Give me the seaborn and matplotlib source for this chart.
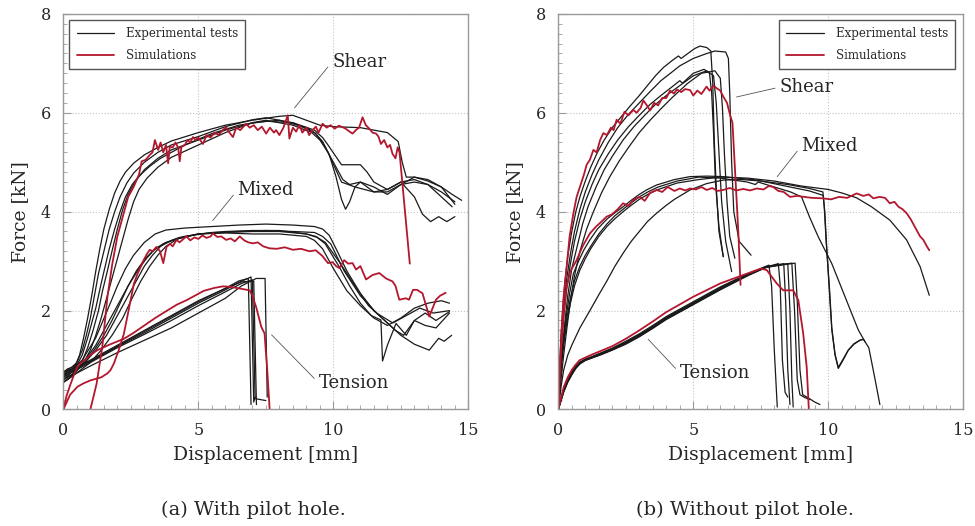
import numpy as np
import pandas as pd
import seaborn as sns
import matplotlib.pyplot as plt
from matplotlib.ticker import MultipleLocator
from matplotlib.lines import Line2D

# ---------------- (a) with pilot hole ----------------
# shear, experimental tests
a_shear_exp1_x = [0, 0.15, 0.3, 0.45, 0.6, 0.75, 0.9, 1.05, 1.2, 1.35, 1.5, 1.7, 1.9, 2.1, 2.3, 2.6, 3.0, 3.5, 4.0, 5.0, 6.0, 7.0, 8.0, 8.5, 9.0, 9.5, 10.0, 11.0, 12.0, 12.4, 12.55, 12.7, 13.0, 13.5, 14.0, 14.4, 14.75]
a_shear_exp1_y = [0.65, 0.75, 0.8, 0.9, 1.1, 1.45, 1.85, 2.3, 2.8, 3.25, 3.65, 4.05, 4.38, 4.62, 4.8, 4.98, 5.15, 5.3, 5.43, 5.6, 5.75, 5.85, 5.93, 5.95, 5.85, 5.75, 5.72, 5.7, 5.6, 5.42, 5.0, 4.7, 4.7, 4.62, 4.5, 4.35, 4.23]
a_shear_exp2_x = [0, 0.15, 0.3, 0.5, 0.7, 0.85, 1.0, 1.15, 1.3, 1.5, 1.7, 1.9, 2.1, 2.35, 2.6, 3.0, 3.5, 4.0, 5.0, 6.0, 7.0, 7.5, 8.5, 9.3, 9.6, 9.85, 10.1, 10.3, 10.45, 10.6, 10.8, 11.0, 11.5, 12.0, 12.5, 13.0, 13.5, 14.0, 14.5]
a_shear_exp2_y = [0.75, 0.82, 0.85, 0.95, 1.2, 1.5, 1.85, 2.3, 2.75, 3.2, 3.65, 4.0, 4.3, 4.58, 4.78, 5.0, 5.2, 5.35, 5.52, 5.72, 5.86, 5.9, 5.8, 5.6, 5.42, 5.15, 4.7, 4.25, 4.05, 4.2, 4.5, 4.6, 4.5, 4.35, 4.55, 4.7, 4.65, 4.5, 4.15]
a_shear_exp3_x = [0, 0.15, 0.3, 0.5, 0.7, 0.9, 1.05, 1.2, 1.4, 1.55, 1.7, 1.9, 2.1, 2.3, 2.55, 2.8, 3.2, 3.6, 4.5, 5.5, 6.5, 7.5, 8.5, 9.3, 9.6, 9.8, 10.05, 10.3, 11.0, 11.25, 11.5, 12.0, 12.5, 13.0, 13.3, 13.6, 13.9, 14.2, 14.5]
a_shear_exp3_y = [0.7, 0.78, 0.8, 0.9, 1.1, 1.45, 1.75, 2.05, 2.55, 2.9, 3.25, 3.65, 4.0, 4.3, 4.55, 4.72, 4.92, 5.08, 5.35, 5.58, 5.75, 5.83, 5.8, 5.65, 5.5, 5.35, 5.15, 4.95, 4.95, 4.8, 4.6, 4.45, 4.6, 4.3, 3.95, 3.8, 3.9, 3.8, 3.9]
a_shear_exp4_x = [0, 0.15, 0.3, 0.5, 0.7, 0.9, 1.1, 1.3, 1.45, 1.65, 1.8, 2.0, 2.2, 2.4, 2.65, 3.0, 3.5, 4.0, 5.0, 6.0, 7.0, 8.0, 9.0, 9.35, 9.6, 9.85, 10.1, 10.35, 10.6, 11.0, 11.5, 12.0, 12.5, 13.0, 13.5, 14.0, 14.4]
a_shear_exp4_y = [0.6, 0.66, 0.7, 0.8, 0.98, 1.25, 1.6, 2.0, 2.4, 2.85, 3.2, 3.65, 4.05, 4.35, 4.6, 4.85, 5.08, 5.25, 5.45, 5.65, 5.8, 5.85, 5.7, 5.58, 5.4, 5.15, 4.9, 4.65, 4.55, 4.6, 4.4, 4.4, 4.55, 4.6, 4.55, 4.3, 4.1]
a_shear_exp5_x = [0, 0.2, 0.4, 0.6, 0.8, 1.0, 1.2, 1.4, 1.6, 1.8, 2.0, 2.2, 2.4, 2.6, 2.8, 3.1, 3.5, 4.0, 5.0, 6.0, 7.0, 7.5, 8.5, 9.2, 9.5, 9.8, 10.05, 10.3, 10.8, 11.5, 12.0, 12.5, 13.0, 13.5, 14.0, 14.5]
a_shear_exp5_y = [0.55, 0.62, 0.72, 0.85, 1.0, 1.2, 1.5, 1.85, 2.25, 2.65, 3.05, 3.45, 3.85, 4.2, 4.45, 4.68, 4.9, 5.1, 5.35, 5.6, 5.8, 5.85, 5.75, 5.6, 5.45, 5.2, 4.9, 4.6, 4.5, 4.4, 4.45, 4.6, 4.65, 4.55, 4.4, 4.2]

# mixed, experimental tests
a_mixed_exp1_x = [0, 0.3, 0.7, 1.2, 1.7, 2.0, 2.3, 2.6, 3.0, 3.4, 3.8, 4.5, 5.5, 6.5, 7.5, 8.5, 9.3, 9.6, 9.85, 10.1, 10.5, 11.0, 11.5, 12.0, 12.5, 13.0, 13.55, 13.9, 14.1, 14.38]
a_mixed_exp1_y = [0.7, 0.8, 1.0, 1.45, 2.1, 2.5, 2.85, 3.12, 3.38, 3.55, 3.63, 3.67, 3.7, 3.73, 3.75, 3.73, 3.7, 3.65, 3.52, 3.25, 2.8, 2.35, 2.0, 1.75, 1.5, 1.32, 1.2, 1.44, 1.38, 1.5]
a_mixed_exp2_x = [0, 0.3, 0.8, 1.2, 1.5, 1.8, 2.1, 2.4, 2.7, 3.0, 3.3, 3.7, 4.2, 5.0, 6.0, 7.0, 8.0, 9.0, 9.4, 9.7, 10.2, 10.6, 11.0, 11.4, 11.76, 11.82, 12.0, 12.32, 12.7, 13.0, 13.4, 13.8, 14.3]
a_mixed_exp2_y = [0.6, 0.7, 0.95, 1.25, 1.5, 1.8, 2.15, 2.5, 2.8, 3.03, 3.2, 3.35, 3.45, 3.55, 3.58, 3.6, 3.6, 3.55, 3.48, 3.35, 2.9, 2.5, 2.15, 1.9, 1.81, 0.98, 1.3, 1.74, 1.5, 1.8, 1.95, 1.8, 1.98]
a_mixed_exp3_x = [0, 0.3, 0.8, 1.2, 1.5, 1.8, 2.1, 2.4, 2.8, 3.1, 3.4, 3.8, 4.2, 5.0, 6.0, 7.0, 8.0, 9.0, 9.3, 9.6, 10.0, 10.5, 11.0, 11.5, 12.0, 12.5, 13.0, 13.5, 14.0, 14.3]
a_mixed_exp3_y = [0.75, 0.85, 1.0, 1.3, 1.6, 1.9, 2.2, 2.5, 2.85, 3.07, 3.25, 3.38, 3.45, 3.55, 3.57, 3.55, 3.55, 3.5, 3.42, 3.25, 2.85, 2.4, 2.1, 1.85, 1.7, 1.85, 2.05, 2.15, 2.2, 2.15]
a_mixed_exp4_x = [0, 0.3, 0.8, 1.2, 1.6, 2.0, 2.3, 2.65, 3.0, 3.3, 3.6, 4.0, 4.3, 5.0, 6.0, 7.0, 8.0, 9.0, 9.35, 9.7, 10.2, 10.8, 11.3, 11.8, 12.3, 12.6, 13.0, 13.4, 13.8, 14.3]
a_mixed_exp4_y = [0.65, 0.75, 0.95, 1.2, 1.5, 1.9, 2.2, 2.55, 2.9, 3.12, 3.3, 3.42, 3.48, 3.55, 3.6, 3.62, 3.62, 3.55, 3.5, 3.38, 3.0, 2.5, 2.1, 1.85, 1.6, 1.5, 1.8, 1.7, 1.65, 1.95]
a_mixed_exp5_x = [0, 0.4, 1.0, 1.4, 1.8, 2.2, 2.5, 2.85, 3.2, 3.5, 3.8, 4.2, 4.5, 5.5, 6.5, 7.5, 8.5, 9.3, 9.6, 9.9, 10.4, 11.0, 11.6, 12.2, 12.7, 13.2, 13.7, 14.3]
a_mixed_exp5_y = [0.55, 0.7, 0.95, 1.2, 1.5, 1.85, 2.2, 2.58, 2.9, 3.12, 3.3, 3.44, 3.5, 3.58, 3.6, 3.62, 3.6, 3.58, 3.5, 3.35, 2.8, 2.3, 1.95, 1.75, 1.9, 2.05, 1.95, 2.0]

# tension, experimental tests
a_tens_exp1_x = [0, 0.3, 1.0, 2.0, 3.0, 4.0, 5.0, 6.0, 6.5, 6.85, 6.95]
a_tens_exp1_y = [0.7, 0.8, 1.0, 1.3, 1.6, 1.9, 2.2, 2.45, 2.6, 2.65, 0.1]
a_tens_exp2_x = [0, 0.3, 1.0, 2.0, 3.0, 4.0, 5.0, 6.0, 6.5, 6.95, 7.05, 7.1]
a_tens_exp2_y = [0.65, 0.78, 0.97, 1.27, 1.55, 1.85, 2.15, 2.42, 2.57, 2.68, 0.15, 0.25]
a_tens_exp3_x = [0, 0.3, 1.0, 2.0, 3.0, 4.0, 5.0, 6.0, 6.6, 7.0, 7.1, 7.3, 7.5]
a_tens_exp3_y = [0.6, 0.75, 0.95, 1.25, 1.52, 1.8, 2.1, 2.38, 2.55, 2.62, 0.22, 0.2, 0.18]
a_tens_exp4_x = [0, 0.3, 1.0, 2.0, 3.0, 4.0, 5.0, 6.0, 6.6, 7.05, 7.15]
a_tens_exp4_y = [0.75, 0.82, 0.98, 1.28, 1.58, 1.88, 2.18, 2.45, 2.58, 2.6, 0.1]
a_tens_exp5_x = [0, 0.3, 1.0, 2.0, 3.0, 4.0, 5.0, 6.0, 6.6, 7.14, 7.47, 7.55]
a_tens_exp5_y = [0.55, 0.68, 0.88, 1.15, 1.4, 1.65, 1.95, 2.25, 2.5, 2.65, 2.65, 0.25]

# simulations
a_shear_sim_x = [1.0, 1.23, 1.44, 1.63, 1.81, 2.0, 2.2, 2.4, 2.6, 2.8, 2.9, 3.05, 3.2, 3.3, 3.39, 3.51, 3.6, 3.7, 3.8, 3.88,
                 3.94, 4.05, 4.15, 4.25, 4.31, 4.37, 4.5, 4.6, 4.7, 4.8, 4.9, 5.0, 5.17, 5.3, 5.45, 5.6, 5.75, 5.9, 6.03, 6.15,
                 6.28, 6.4, 6.55, 6.77, 6.9, 7.05, 7.2, 7.35, 7.51, 7.65, 7.8, 7.88, 8.0, 8.15, 8.31, 8.37, 8.5, 8.62, 8.74, 8.85,
                 9.0, 9.1, 9.23, 9.35, 9.45, 9.6, 9.75, 9.9, 10.05, 10.2, 10.34, 10.45, 10.6, 10.71, 10.85, 10.95, 11.08, 11.2, 11.33, 11.45,
                 11.58, 11.67, 11.76, 11.88, 12.0, 12.1, 12.19, 12.3, 12.38, 12.45, 12.83]
a_shear_sim_y = [0.0, 0.52, 1.26, 2.27, 2.94, 3.5, 3.9, 4.3, 4.5, 4.75, 5.02, 5.05, 5.15, 5.2, 5.45, 5.25, 5.4, 5.2, 5.35, 4.98,
                 5.31, 5.3, 5.4, 5.3, 5.02, 5.31, 5.35, 5.45, 5.4, 5.51, 5.45, 5.5, 5.37, 5.55, 5.5, 5.6, 5.55, 5.65, 5.71, 5.6,
                 5.51, 5.7, 5.65, 5.78, 5.7, 5.75, 5.65, 5.72, 5.58, 5.7, 5.6, 5.65, 5.55, 5.7, 5.95, 5.48, 5.7, 5.62, 5.75, 5.6,
                 5.7, 5.55, 5.65, 5.72, 5.6, 5.78, 5.7, 5.75, 5.68, 5.74, 5.71, 5.68, 5.62, 5.58, 5.66, 5.7, 5.91, 5.75, 5.68, 5.6,
                 5.58, 5.52, 5.37, 5.45, 5.3, 5.35, 5.17, 5.08, 5.3, 5.2, 2.95]
a_mixed_sim_x = [0, 0.25, 0.52, 0.75, 1.01, 1.2, 1.4, 1.63, 1.75, 1.87, 2.05, 2.24, 2.45, 2.61, 2.75, 2.86, 3.0, 3.1, 3.2, 3.3,
                 3.45, 3.58, 3.7, 3.82, 3.95, 4.05, 4.19, 4.3, 4.45, 4.56, 4.7, 4.85, 5.0, 5.15, 5.3, 5.45, 5.54, 5.7, 5.85, 6.03,
                 6.2, 6.35, 6.53, 6.7, 6.85, 7.02, 7.2, 7.4, 7.63, 7.9, 8.2, 8.5, 8.8, 9.11, 9.35, 9.6, 9.8, 9.97, 10.1, 10.22,
                 10.4, 10.55, 10.71, 10.84, 11.0, 11.21, 11.45, 11.7, 11.95, 12.19, 12.3, 12.44, 12.68, 12.8, 12.95, 13.1, 13.3, 13.55, 13.8, 13.95,
                 14.16]
a_mixed_sim_y = [0, 0.3, 0.46, 0.53, 0.59, 0.62, 0.65, 0.73, 0.8, 0.93, 1.2, 1.53, 2.1, 2.54, 2.75, 2.88, 3.05, 3.15, 3.23, 3.2,
                 3.29, 3.2, 2.96, 3.29, 3.35, 3.3, 3.43, 3.38, 3.45, 3.5, 3.42, 3.48, 3.45, 3.52, 3.47, 3.5, 3.56, 3.49, 3.5, 3.43,
                 3.46, 3.4, 3.5, 3.42, 3.38, 3.36, 3.38, 3.3, 3.26, 3.25, 3.28, 3.23, 3.25, 3.2, 3.22, 3.1, 2.96, 2.98, 2.9, 2.86,
                 3.02, 2.95, 2.96, 2.83, 2.9, 2.63, 2.72, 2.76, 2.65, 2.59, 2.5, 2.22, 2.25, 2.22, 2.42, 2.42, 2.35, 1.88, 2.22, 2.3,
                 2.36]
a_tens_sim_x = [0, 0.12, 0.27, 0.4, 0.52, 0.64, 0.76, 1.0, 1.26, 1.7, 2.24, 2.6, 3.0, 3.4, 3.84, 4.2, 4.56, 5.2, 5.6, 5.91, 6.2, 6.5, 6.9, 7.0, 7.14, 7.33, 7.45, 7.55, 7.64]
a_tens_sim_y = [0, 0.28, 0.52, 0.71, 0.86, 0.94, 0.99, 1.1, 1.2, 1.31, 1.43, 1.55, 1.7, 1.85, 2.0, 2.12, 2.21, 2.4, 2.46, 2.49, 2.48, 2.45, 2.41, 2.3, 2.07, 1.67, 1.54, 0.8, 0.0]

# ---------------- (b) without pilot hole ----------------
b_shear_exp1_x = [0, 0.05, 0.1, 0.17, 0.25, 0.35, 0.5, 0.65, 0.8, 1.0, 1.2, 1.45, 1.7, 2.0, 2.3, 2.65, 3.0, 3.3, 3.6, 3.9, 4.2, 4.45, 4.55, 4.8, 5.05, 5.25, 5.5, 5.65, 5.72, 5.78, 5.85, 5.95, 6.11]
b_shear_exp1_y = [0, 0.85, 1.5, 2.1, 2.6, 3.1, 3.6, 4.0, 4.3, 4.62, 4.9, 5.2, 5.45, 5.7, 5.9, 6.13, 6.35, 6.55, 6.75, 6.92, 7.05, 7.15, 7.1, 7.2, 7.3, 7.35, 7.32, 7.25, 6.6, 5.4, 4.5, 3.6, 3.09]
b_shear_exp2_x = [0, 0.05, 0.1, 0.2, 0.3, 0.45, 0.6, 0.8, 1.0, 1.25, 1.5, 1.85, 2.2, 2.6, 3.0, 3.4, 3.8, 4.2, 4.5, 5.0, 5.5, 5.8, 6.2, 6.3, 6.35, 6.42, 6.5, 6.7, 7.14]
b_shear_exp2_y = [0, 0.75, 1.3, 2.05, 2.6, 3.15, 3.6, 4.05, 4.4, 4.75, 5.05, 5.4, 5.7, 5.97, 6.2, 6.43, 6.65, 6.82, 6.95, 7.1, 7.2, 7.25, 7.23, 7.1, 6.4, 5.0, 4.0, 3.4, 3.12]
b_shear_exp3_x = [0, 0.05, 0.1, 0.2, 0.3, 0.45, 0.6, 0.8, 1.0, 1.25, 1.5, 1.85, 2.2, 2.6, 3.0, 3.4, 3.8, 4.2, 4.5, 4.6, 5.0, 5.4, 5.6, 5.68, 5.75, 5.82, 5.95, 6.11]
b_shear_exp3_y = [0, 0.7, 1.2, 1.9, 2.4, 2.95, 3.4, 3.85, 4.2, 4.55, 4.85, 5.17, 5.45, 5.72, 5.95, 6.17, 6.35, 6.52, 6.65, 6.6, 6.8, 6.88, 6.8, 6.4, 5.6, 4.6, 3.7, 3.09]
b_shear_exp4_x = [0, 0.07, 0.15, 0.25, 0.35, 0.5, 0.7, 0.9, 1.1, 1.4, 1.7, 2.0, 2.4, 2.8, 3.2, 3.6, 4.0, 4.5, 5.0, 5.5, 5.75, 5.85, 5.95, 6.05, 6.2, 6.42]
b_shear_exp4_y = [0, 0.65, 1.2, 1.8, 2.3, 2.85, 3.3, 3.75, 4.1, 4.5, 4.85, 5.12, 5.45, 5.72, 5.95, 6.17, 6.35, 6.55, 6.75, 6.85, 6.75, 6.2, 5.2, 4.2, 3.4, 2.79]
b_shear_exp5_x = [0, 0.1, 0.2, 0.32, 0.45, 0.6, 0.8, 1.05, 1.3, 1.6, 1.9, 2.25, 2.6, 3.0, 3.4, 3.8, 4.2, 4.8, 5.3, 5.8, 6.0, 6.08, 6.15, 6.25, 6.35, 6.54]
b_shear_exp5_y = [0, 0.6, 1.1, 1.65, 2.2, 2.7, 3.2, 3.65, 4.0, 4.38, 4.7, 5.02, 5.3, 5.6, 5.85, 6.08, 6.3, 6.6, 6.8, 6.85, 6.7, 6.1, 5.2, 4.2, 3.5, 3.06]

b_mixed_exp1_x = [0, 0.05, 0.1, 0.2, 0.3, 0.42, 0.56, 0.75, 0.95, 1.17, 1.45, 1.8, 2.1, 2.4, 2.7, 3.0, 3.3, 3.64, 4.3, 4.88, 5.5, 6.1, 7.35, 8.58, 9.3, 9.81, 9.87, 9.94, 10.05, 10.13, 10.25, 10.37, 10.55, 10.74, 10.95, 11.17, 11.3, 11.5, 11.7, 11.91]
b_mixed_exp1_y = [0, 0.55, 1.0, 1.5, 1.9, 2.35, 2.75, 3.0, 3.23, 3.43, 3.65, 3.85, 3.98, 4.1, 4.23, 4.35, 4.45, 4.54, 4.65, 4.71, 4.72, 4.71, 4.64, 4.5, 4.42, 4.33, 4.0, 3.29, 2.3, 1.61, 1.1, 0.83, 1.0, 1.2, 1.32, 1.4, 1.42, 1.25, 0.7, 0.1]
b_mixed_exp2_x = [0, 0.05, 0.1, 0.2, 0.3, 0.45, 0.6, 0.8, 1.0, 1.2, 1.5, 1.8, 2.1, 2.4, 2.7, 3.0, 3.35, 3.7, 4.4, 5.2, 6.0, 7.0, 7.3, 7.4, 8.0, 8.6, 9.01, 9.3, 9.63, 10.13, 10.62, 11.11, 11.36]
b_mixed_exp2_y = [0, 0.5, 0.9, 1.4, 1.8, 2.25, 2.6, 2.9, 3.12, 3.3, 3.55, 3.75, 3.92, 4.05, 4.18, 4.3, 4.41, 4.5, 4.62, 4.7, 4.68, 4.6, 4.55, 4.6, 4.5, 4.4, 4.3, 3.9, 3.49, 2.95, 2.28, 1.61, 1.37]
b_mixed_exp3_x = [0, 0.05, 0.1, 0.2, 0.3, 0.45, 0.6, 0.8, 1.0, 1.2, 1.5, 1.8, 2.1, 2.4, 2.7, 3.0, 3.35, 3.7, 4.4, 5.2, 6.0, 7.0, 8.0, 9.0, 10.0, 10.5, 11.05, 11.6, 12.28, 12.9, 13.4, 13.74]
b_mixed_exp3_y = [0, 0.45, 0.8, 1.3, 1.7, 2.15, 2.5, 2.82, 3.05, 3.25, 3.5, 3.7, 3.86, 4.0, 4.13, 4.25, 4.36, 4.45, 4.58, 4.65, 4.7, 4.68, 4.62, 4.52, 4.45, 4.38, 4.28, 4.1, 3.83, 3.43, 2.89, 2.31]
b_mixed_exp4_x = [0, 0.1, 0.2, 0.35, 0.5, 0.8, 1.17, 1.5, 1.8, 2.1, 2.4, 2.7, 3.0, 3.3, 3.64, 4.0, 4.3, 4.88, 5.5, 6.11, 6.8, 7.5, 8.5, 9.3, 9.8, 9.85, 9.92, 10.05, 10.13, 10.25, 10.37, 10.55, 10.74, 10.95, 11.17, 11.3]
b_mixed_exp4_y = [0, 0.45, 0.8, 1.1, 1.3, 1.65, 2.0, 2.32, 2.6, 2.9, 3.16, 3.4, 3.6, 3.8, 3.97, 4.13, 4.25, 4.44, 4.57, 4.64, 4.65, 4.62, 4.55, 4.47, 4.4, 4.1, 3.4, 2.4, 1.65, 1.12, 0.85, 1.02, 1.2, 1.33, 1.4, 1.42]

b_tens_exp1_x = [0, 0.1, 0.2, 0.35, 0.5, 0.65, 0.8, 1.0, 1.2, 1.6, 2.0, 2.5, 3.0, 3.5, 4.0, 5.0, 6.0, 7.0, 7.5, 7.8, 7.9, 8.0, 8.11]
b_tens_exp1_y = [0, 0.2, 0.4, 0.6, 0.75, 0.87, 0.95, 1.01, 1.05, 1.13, 1.22, 1.35, 1.5, 1.67, 1.85, 2.15, 2.45, 2.72, 2.85, 2.92, 2.5, 1.2, 0.05]
b_tens_exp2_x = [0, 0.1, 0.2, 0.35, 0.5, 0.65, 0.8, 1.0, 1.2, 1.6, 2.0, 2.5, 3.0, 3.5, 4.0, 5.0, 6.0, 7.0, 7.7, 8.15, 8.22, 8.3, 8.4, 8.5]
b_tens_exp2_y = [0, 0.17, 0.35, 0.55, 0.7, 0.83, 0.92, 0.99, 1.03, 1.11, 1.2, 1.32, 1.47, 1.64, 1.82, 2.12, 2.42, 2.7, 2.88, 2.95, 2.5, 1.0, 0.35, 0.25]
b_tens_exp3_x = [0, 0.1, 0.2, 0.35, 0.5, 0.65, 0.8, 1.0, 1.2, 1.6, 2.0, 2.5, 3.0, 3.5, 4.0, 5.0, 6.0, 7.0, 7.7, 8.35, 8.42, 8.5, 8.58]
b_tens_exp3_y = [0, 0.22, 0.42, 0.62, 0.77, 0.89, 0.96, 1.02, 1.06, 1.15, 1.24, 1.38, 1.53, 1.7, 1.88, 2.18, 2.48, 2.74, 2.89, 2.95, 2.2, 0.8, 0.1]
b_tens_exp4_x = [0, 0.1, 0.2, 0.35, 0.5, 0.65, 0.8, 1.0, 1.2, 1.6, 2.0, 2.5, 3.0, 3.5, 4.0, 5.0, 6.0, 7.0, 7.7, 8.5, 8.58, 8.65, 8.7]
b_tens_exp4_y = [0, 0.19, 0.38, 0.57, 0.72, 0.85, 0.93, 1.0, 1.04, 1.12, 1.21, 1.34, 1.48, 1.65, 1.83, 2.13, 2.43, 2.71, 2.87, 2.95, 2.0, 0.6, 0.05]
b_tens_exp5_x = [0, 0.1, 0.2, 0.35, 0.5, 0.65, 0.8, 1.0, 1.2, 1.6, 2.0, 2.5, 3.0, 3.5, 4.0, 5.0, 6.0, 7.0, 7.7, 8.65, 8.75, 8.85, 8.95, 9.1, 9.3]
b_tens_exp5_y = [0, 0.21, 0.4, 0.6, 0.74, 0.86, 0.94, 1.01, 1.05, 1.14, 1.23, 1.36, 1.51, 1.68, 1.86, 2.16, 2.46, 2.73, 2.89, 2.96, 2.0, 0.6, 0.3, 0.25, 0.2]
b_tens_exp6_x = [0, 0.1, 0.2, 0.35, 0.5, 0.65, 0.8, 1.0, 1.2, 1.6, 2.0, 2.5, 3.0, 3.5, 4.0, 5.0, 6.0, 7.0, 7.7, 8.77, 8.85, 8.95, 9.05, 9.3, 9.5, 9.69]
b_tens_exp6_y = [0, 0.18, 0.36, 0.56, 0.71, 0.84, 0.93, 1.0, 1.04, 1.12, 1.21, 1.34, 1.49, 1.66, 1.84, 2.14, 2.44, 2.72, 2.88, 2.96, 2.2, 0.8, 0.3, 0.22, 0.15, 0.1]

b_shear_sim_x = [0, 0.05, 0.12, 0.2, 0.31, 0.42, 0.56, 0.68, 0.8, 0.95, 1.05, 1.17, 1.3, 1.42, 1.55, 1.67, 1.8, 1.95, 2.05, 2.16,
                 2.3, 2.45, 2.6, 2.78, 2.9, 3.05, 3.15, 3.27, 3.4, 3.55, 3.7, 3.85, 4.0, 4.14, 4.28, 4.4, 4.55, 4.7, 4.88, 5.0,
                 5.15, 5.3, 5.49, 5.6, 5.75, 5.86, 6.0, 6.11, 6.25, 6.36, 6.45, 6.54, 6.67, 6.75]
b_shear_sim_y = [0, 0.8, 1.54, 2.3, 2.89, 3.5, 3.97, 4.3, 4.5, 4.75, 4.95, 5.05, 5.25, 5.2, 5.45, 5.59, 5.55, 5.7, 5.65, 5.86,
                 5.78, 6.02, 5.95, 6.06, 6.0, 6.1, 6.25, 6.16, 6.05, 6.2, 6.15, 6.3, 6.3, 6.45, 6.39, 6.47, 6.42, 6.48, 6.46, 6.35,
                 6.45, 6.38, 6.53, 6.45, 6.55, 6.5, 6.45, 6.33, 6.2, 5.96, 5.8, 4.9, 3.56, 2.52]
b_mixed_sim_x = [0, 0.1, 0.2, 0.31, 0.45, 0.68, 0.9, 1.17, 1.4, 1.6, 1.79, 2.0, 2.2, 2.4, 2.6, 2.8, 3.02, 3.2, 3.4, 3.64,
                 3.85, 4.05, 4.3, 4.5, 4.7, 4.88, 5.1, 5.3, 5.5, 5.7, 5.9, 6.11, 6.35, 6.6, 6.85, 7.1, 7.35, 7.6, 7.8, 7.96,
                 8.15, 8.35, 8.58, 8.85, 9.1, 9.4, 9.81, 10.1, 10.4, 10.7, 11.05, 11.3, 11.5, 11.67, 11.9, 12.1, 12.28, 12.45, 12.6, 12.75,
                 12.9, 13.05, 13.2, 13.27, 13.4, 13.52, 13.65, 13.74]
b_mixed_sim_y = [0, 1.2, 1.9, 2.48, 2.8, 3.02, 3.3, 3.56, 3.7, 3.8, 3.9, 3.95, 4.05, 4.17, 4.12, 4.25, 4.3, 4.22, 4.38, 4.44,
                 4.4, 4.5, 4.42, 4.47, 4.43, 4.47, 4.45, 4.5, 4.44, 4.48, 4.42, 4.44, 4.48, 4.43, 4.46, 4.43, 4.47, 4.45, 4.52, 4.5,
                 4.42, 4.4, 4.3, 4.32, 4.3, 4.28, 4.27, 4.25, 4.3, 4.28, 4.37, 4.32, 4.35, 4.27, 4.3, 4.28, 4.17, 4.2, 4.1, 4.05,
                 3.97, 3.85, 3.7, 3.63, 3.5, 3.43, 3.3, 3.22]
b_tens_sim_x = [0, 0.1, 0.2, 0.35, 0.5, 0.65, 0.8, 1.0, 1.2, 1.6, 2.0, 2.5, 3.0, 3.5, 4.0, 5.0, 6.0, 7.0, 7.5, 7.72, 8.09, 8.33, 8.7, 8.89, 9.07, 9.2, 9.28]
b_tens_sim_y = [0, 0.23, 0.45, 0.65, 0.8, 0.91, 1.0, 1.05, 1.1, 1.19, 1.28, 1.43, 1.6, 1.78, 1.97, 2.28, 2.55, 2.75, 2.85, 2.82, 2.55, 2.41, 2.41, 2.21, 1.54, 0.86, 0.0]

curves = [
    ('a', 'exp', a_shear_exp1_x, a_shear_exp1_y), ('a', 'exp', a_shear_exp2_x, a_shear_exp2_y),
    ('a', 'exp', a_shear_exp3_x, a_shear_exp3_y), ('a', 'exp', a_shear_exp4_x, a_shear_exp4_y),
    ('a', 'exp', a_shear_exp5_x, a_shear_exp5_y),
    ('a', 'exp', a_mixed_exp1_x, a_mixed_exp1_y), ('a', 'exp', a_mixed_exp2_x, a_mixed_exp2_y),
    ('a', 'exp', a_mixed_exp3_x, a_mixed_exp3_y), ('a', 'exp', a_mixed_exp4_x, a_mixed_exp4_y),
    ('a', 'exp', a_mixed_exp5_x, a_mixed_exp5_y),
    ('a', 'exp', a_tens_exp1_x, a_tens_exp1_y), ('a', 'exp', a_tens_exp2_x, a_tens_exp2_y),
    ('a', 'exp', a_tens_exp3_x, a_tens_exp3_y), ('a', 'exp', a_tens_exp4_x, a_tens_exp4_y),
    ('a', 'exp', a_tens_exp5_x, a_tens_exp5_y),
    ('a', 'sim', a_shear_sim_x, a_shear_sim_y), ('a', 'sim', a_mixed_sim_x, a_mixed_sim_y),
    ('a', 'sim', a_tens_sim_x, a_tens_sim_y),
    ('b', 'exp', b_shear_exp1_x, b_shear_exp1_y), ('b', 'exp', b_shear_exp2_x, b_shear_exp2_y),
    ('b', 'exp', b_shear_exp3_x, b_shear_exp3_y), ('b', 'exp', b_shear_exp4_x, b_shear_exp4_y),
    ('b', 'exp', b_shear_exp5_x, b_shear_exp5_y),
    ('b', 'exp', b_mixed_exp1_x, b_mixed_exp1_y), ('b', 'exp', b_mixed_exp2_x, b_mixed_exp2_y),
    ('b', 'exp', b_mixed_exp3_x, b_mixed_exp3_y), ('b', 'exp', b_mixed_exp4_x, b_mixed_exp4_y),
    ('b', 'exp', b_tens_exp1_x, b_tens_exp1_y), ('b', 'exp', b_tens_exp2_x, b_tens_exp2_y),
    ('b', 'exp', b_tens_exp3_x, b_tens_exp3_y), ('b', 'exp', b_tens_exp4_x, b_tens_exp4_y),
    ('b', 'exp', b_tens_exp5_x, b_tens_exp5_y), ('b', 'exp', b_tens_exp6_x, b_tens_exp6_y),
    ('b', 'sim', b_shear_sim_x, b_shear_sim_y), ('b', 'sim', b_mixed_sim_x, b_mixed_sim_y),
    ('b', 'sim', b_tens_sim_x, b_tens_sim_y),
]

rows = []
for i, (panel, kind, xs, ys) in enumerate(curves):
    for x, y in zip(xs, ys):
        rows.append({'panel': panel, 'kind': kind, 'curve': i, 'x': x, 'y': y})
df = pd.DataFrame(rows)

# annotation labels: (text, text pos, leader target)
labels_a = [('Shear', (9.95, 7.03), (8.56, 6.1)),
            ('Mixed', (6.45, 4.44), (5.53, 3.82)),
            ('Tension', (9.45, 0.54), (7.71, 1.51))]
labels_b = [('Shear', (8.2, 6.52), (6.6, 6.32)),
            ('Mixed', (9.0, 5.33), (8.11, 4.71)),
            ('Tension', (4.5, 0.74), (3.33, 1.42))]
captions = ['(a) With pilot hole.', '(b) Without pilot hole.']

BLACK = '#1a1a1a'
RED = '#b3172d'
GREY = '#9a9a9a'

sns.set_style('white')
plt.rcParams['font.family'] = ['DejaVu Serif']

fig = plt.figure(figsize=(9.75, 5.26), dpi=100)
ax_a = fig.add_axes([0.065, 0.2215, 0.4154, 0.752])
ax_b = fig.add_axes([0.5726, 0.2215, 0.4154, 0.752])

for ax, panel, labels in [(ax_a, 'a', labels_a), (ax_b, 'b', labels_b)]:
    sub = df[df.panel == panel]
    sns.lineplot(data=sub[sub.kind == 'exp'], x='x', y='y', units='curve', estimator=None,
                 sort=False, color=BLACK, lw=0.9, legend=False, ax=ax)
    sns.lineplot(data=sub[sub.kind == 'sim'], x='x', y='y', units='curve', estimator=None,
                 sort=False, color=RED, lw=1.3, legend=False, ax=ax)

    ax.set_xlim(0, 15)
    ax.set_ylim(0, 8)
    ax.set_xticks([0, 5, 10, 15])
    ax.set_yticks([0, 2, 4, 6, 8])
    ax.xaxis.set_minor_locator(MultipleLocator(0.5))
    ax.yaxis.set_minor_locator(MultipleLocator(0.2))
    ax.tick_params(which='both', direction='in', color=GREY, labelsize=11.5,
                   top=False, right=False, bottom=True, left=True)
    ax.tick_params(axis='x', which='both', pad=9)
    ax.tick_params(axis='y', which='both', pad=9)
    ax.tick_params(which='major', length=6, width=0.8)
    ax.tick_params(which='minor', length=3, width=0.6)
    ax.grid(True, which='major', ls=':', color='#c4c4c4', lw=0.8)
    for s in ax.spines.values():
        s.set_color(GREY)
        s.set_linewidth(1.0)
    ax.set_xlabel('Displacement [mm]', fontsize=13.5, labelpad=5)
    ax.set_ylabel('Force [kN]', fontsize=13.5, labelpad=8)

    for txt, tpos, target in labels:
        ax.annotate(txt, xy=target, xytext=tpos, fontsize=13, ha='left', va='center',
                    arrowprops=dict(arrowstyle='-', color='#555555', lw=0.6,
                                    shrinkA=1, shrinkB=0, relpos=(0, 0.5)))

handles = [Line2D([], [], color=BLACK, lw=0.9), Line2D([], [], color=RED, lw=1.3)]
names = ['Experimental tests', 'Simulations']
leg_kw = dict(fontsize=8.5, frameon=True, fancybox=False, edgecolor='#555555', framealpha=1,
              handlelength=3.2, handletextpad=1.0, labelspacing=0.8, borderpad=0.6, borderaxespad=0)
ax_a.legend(handles, names, loc='upper left', bbox_to_anchor=(0.015, 0.985), **leg_kw)
ax_b.legend(handles, names, loc='upper right', bbox_to_anchor=(0.98, 0.985), **leg_kw)

fig.text(0.2595, 0.03, captions[0], fontsize=14, ha='center', va='center')
fig.text(0.764, 0.03, captions[1], fontsize=14, ha='center', va='center')

fig.savefig('out.png', dpi=100)
